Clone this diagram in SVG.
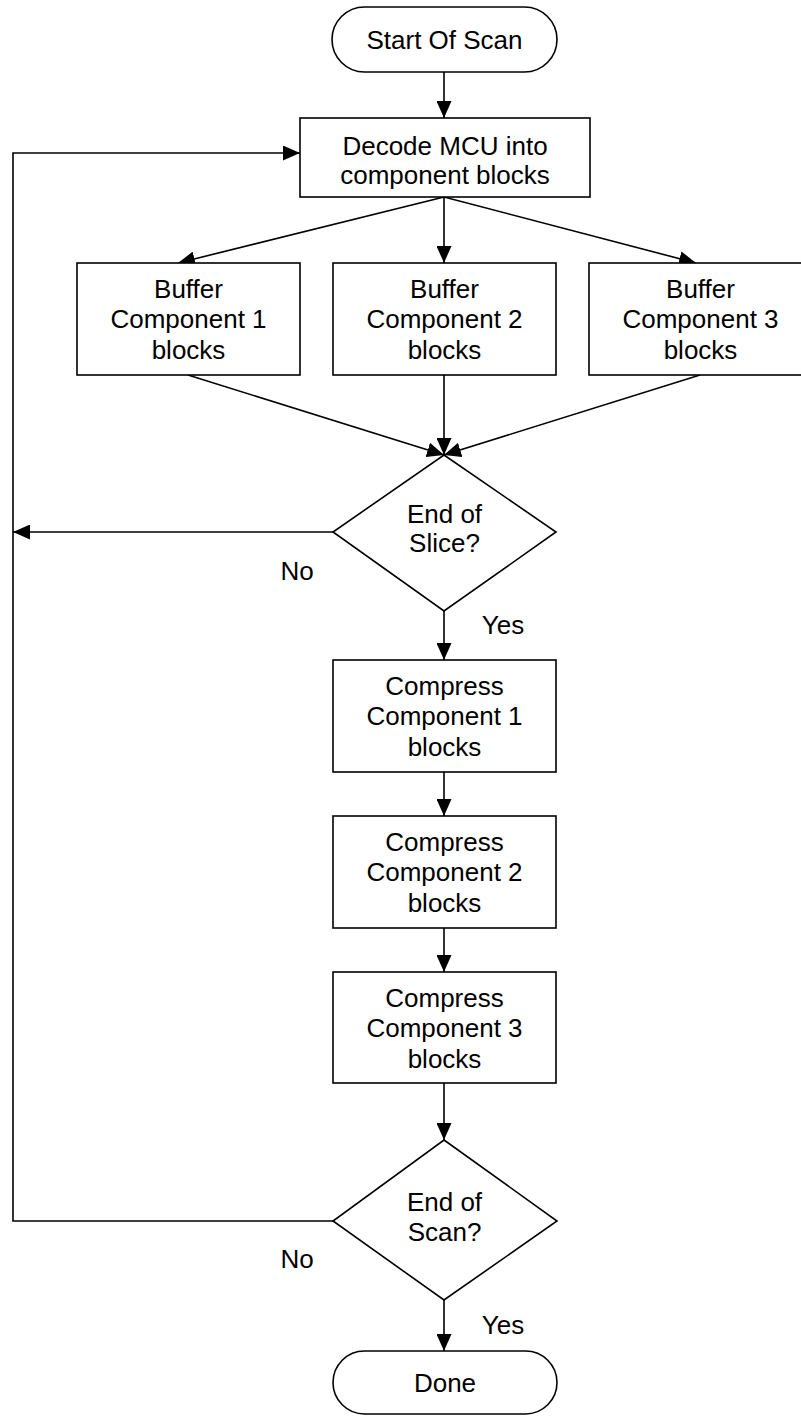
<svg xmlns="http://www.w3.org/2000/svg" width="801" height="1416" viewBox="0 0 801 1416">
<style>
.box{fill:#fff;stroke:#000;stroke-width:1.6}
.t{font-family:"Liberation Sans",Arial,sans-serif;font-size:26px;fill:#000;text-anchor:middle}
.c{fill:none;stroke:#000;stroke-width:1.6}
</style>
<defs>
<marker id="ah" markerUnits="userSpaceOnUse" markerWidth="17" markerHeight="15" refX="17" refY="7.5" orient="auto">
<path d="M0,0 L17,7.5 L0,15 Z" fill="#000"/>
</marker>
</defs>
<rect width="801" height="1416" fill="#fff"/>
<g id="connectors">
<line class="c" x1="444" y1="72" x2="444" y2="118" marker-end="url(#ah)"/>
<line class="c" x1="444" y1="197" x2="178" y2="263" marker-end="url(#ah)"/>
<line class="c" x1="444" y1="197" x2="444" y2="263" marker-end="url(#ah)"/>
<line class="c" x1="444" y1="197" x2="696" y2="263" marker-end="url(#ah)"/>
<line class="c" x1="188" y1="375" x2="444" y2="455" marker-end="url(#ah)"/>
<line class="c" x1="444" y1="375" x2="444" y2="455" marker-end="url(#ah)"/>
<line class="c" x1="700" y1="375" x2="444" y2="455" marker-end="url(#ah)"/>
<line class="c" x1="333" y1="532" x2="13" y2="532" marker-end="url(#ah)"/>
<line class="c" x1="444" y1="611" x2="444" y2="660" marker-end="url(#ah)"/>
<line class="c" x1="444" y1="772" x2="444" y2="816" marker-end="url(#ah)"/>
<line class="c" x1="444" y1="928" x2="444" y2="972" marker-end="url(#ah)"/>
<line class="c" x1="444" y1="1083" x2="444" y2="1140" marker-end="url(#ah)"/>
<line class="c" x1="444" y1="1300" x2="444" y2="1351" marker-end="url(#ah)"/>
<polyline class="c" points="333,1221 13,1221 13,153 300,153" marker-end="url(#ah)"/>
<text class="t" x="297" y="580">No</text>
<text class="t" x="503" y="634">Yes</text>
<text class="t" x="297" y="1268">No</text>
<text class="t" x="503" y="1334">Yes</text>
</g>
<g id="start">
<rect class="box" x="332" y="7" width="225" height="65" rx="32.5"/>
<text class="t" x="444.5" y="49">Start Of Scan</text>
</g>
<g id="decode">
<rect class="box" x="300" y="118" width="290" height="79"/>
<text class="t" x="445" y="155">Decode MCU into</text>
<text class="t" x="445" y="184">component blocks</text>
</g>
<g id="buffer1">
<rect class="box" x="77" y="263" width="223" height="112"/>
<text class="t" x="188.5" y="298">Buffer</text>
<text class="t" x="188.5" y="328">Component 1</text>
<text class="t" x="188.5" y="359">blocks</text>
</g>
<g id="buffer2">
<rect class="box" x="333" y="263" width="223" height="112"/>
<text class="t" x="444.5" y="298">Buffer</text>
<text class="t" x="444.5" y="328">Component 2</text>
<text class="t" x="444.5" y="359">blocks</text>
</g>
<g id="buffer3">
<rect class="box" x="589" y="263" width="223" height="112"/>
<text class="t" x="700.5" y="298">Buffer</text>
<text class="t" x="700.5" y="328">Component 3</text>
<text class="t" x="700.5" y="359">blocks</text>
</g>
<g id="endslice">
<polygon class="box" points="444,455 556,532 444,611 333,532"/>
<text class="t" x="444.5" y="523">End of</text>
<text class="t" x="444.5" y="552">Slice?</text>
</g>
<g id="compress1">
<rect class="box" x="333" y="660" width="223" height="112"/>
<text class="t" x="444.5" y="695">Compress</text>
<text class="t" x="444.5" y="725">Component 1</text>
<text class="t" x="444.5" y="756">blocks</text>
</g>
<g id="compress2">
<rect class="box" x="333" y="816" width="223" height="112"/>
<text class="t" x="444.5" y="851">Compress</text>
<text class="t" x="444.5" y="881">Component 2</text>
<text class="t" x="444.5" y="912">blocks</text>
</g>
<g id="compress3">
<rect class="box" x="333" y="972" width="223" height="111"/>
<text class="t" x="444.5" y="1007">Compress</text>
<text class="t" x="444.5" y="1037">Component 3</text>
<text class="t" x="444.5" y="1068">blocks</text>
</g>
<g id="endscan">
<polygon class="box" points="444,1140 557,1221 444,1300 333,1221"/>
<text class="t" x="444.5" y="1211">End of</text>
<text class="t" x="444.5" y="1241">Scan?</text>
</g>
<g id="done">
<rect class="box" x="333" y="1351" width="224" height="63" rx="31.5"/>
<text class="t" x="445" y="1392">Done</text>
</g>
</svg>
